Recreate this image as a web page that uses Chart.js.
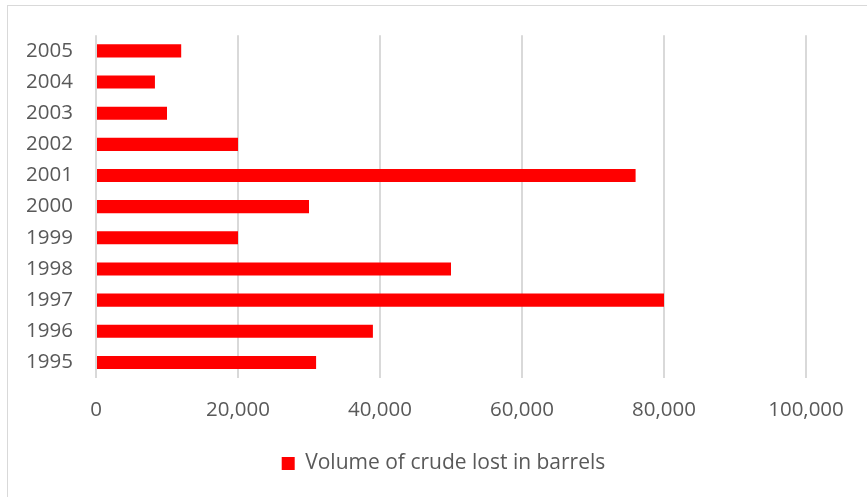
<!DOCTYPE html>
<html>
<head>
<meta charset="utf-8">
<script src="https://cdn.jsdelivr.net/npm/chart.js@4"></script>
<style>
  html, body { margin: 0; padding: 0; background: #fff; overflow: hidden; }
  #wrap { position: relative; width: 867px; height: 497px; }
  #frame { position: absolute; left: 7px; top: 5px; width: 880px; height: 510px; border: 1.5px solid #d9d9d9; pointer-events: none; }
  canvas { position: absolute; left: 0; top: 0; }
</style>
</head>
<body>
<div id="wrap">
  <canvas id="c" width="867" height="497"></canvas>
  <div id="frame"></div>
</div>
<script>
const years = ["1995","1996","1997","1998","1999","2000","2001","2002","2003","2004","2005"];
const barrelsLost = [31000, 39000, 80000, 50000, 20000, 30000, 76000, 20000, 10000, 8300, 12000];
const seriesName = "Volume of crude lost in barrels";
const xTicks = [0, 20000, 40000, 60000, 80000, 100000];

const textColor = "#595959";
const gridColor = "#d9d9d9";
const tickFont = { family: "'Open Sans', Lato, sans-serif", size: 20.5 };
const legendFont = { family: "'Open Sans', Lato, sans-serif", size: 21 };

const shiftLegend = {
  id: "shiftLegend",
  afterLayout(chart) {
    const l = chart.legend;
    const want = 443.5;
    const d = want - (l.left + l.right) / 2;
    l.left += d; l.right += d;
  }
};

new Chart(document.getElementById("c"), {
  type: "bar",
  data: {
    labels: years,
    datasets: [{
      label: seriesName,
      data: barrelsLost,
      backgroundColor: "#ff0000",
      borderWidth: 0,
      barPercentage: 0.42,
      categoryPercentage: 1.0
    }]
  },
  plugins: [shiftLegend],
  options: {
    indexAxis: "y",
    responsive: false,
    animation: false,
    layout: { padding: { left: 0, right: 61, top: 33, bottom: 13 } },
    scales: {
      x: {
        min: xTicks[0],
        max: xTicks[xTicks.length - 1],
        afterBuildTicks: s => { s.ticks = xTicks.map(v => ({ value: v })); },
        afterFit: s => { s.height = 65; },
        grid: { color: gridColor, lineWidth: 2, drawTicks: false },
        border: { display: false },
        ticks: {
          color: textColor, font: tickFont, padding: 20, maxRotation: 0,
          callback: v => Number(v).toLocaleString("en-US")
        }
      },
      y: {
        reverse: true,
        afterFit: s => { s.width = 96; },
        grid: { display: false, drawTicks: false },
        border: { display: false },
        ticks: { color: textColor, font: tickFont, padding: 23, autoSkip: false }
      }
    },
    plugins: {
      legend: {
        position: "bottom",
        labels: { color: textColor, font: legendFont, boxWidth: 13, boxHeight: 13, padding: 10 }
      },
      tooltip: { enabled: false }
    }
  }
});
</script>
</body>
</html>
